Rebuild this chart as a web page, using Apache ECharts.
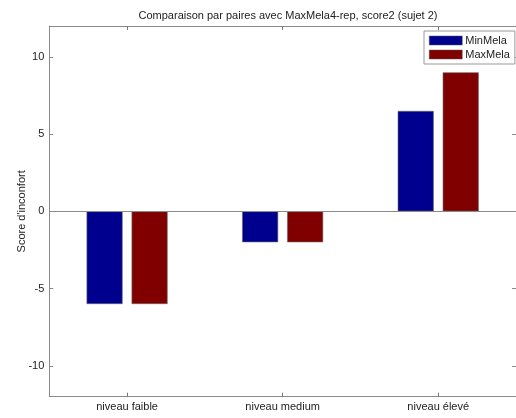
<!DOCTYPE html>
<html>
<head>
<meta charset="utf-8">
<script src="https://cdn.jsdelivr.net/npm/echarts@6/dist/echarts.min.js"></script>
<style>html,body{margin:0;padding:0;background:#fff;}#c{width:516px;height:418px;}</style>
</head>
<body>
<div id="c"></div>
<script>
const categories = ['niveau faible', 'niveau medium', 'niveau élevé'];
const minMela = [-6, -2, 6.5];
const maxMela = [-6, -2, 9];
const yTicks = [-10, -5, 0, 5, 10];
const titleText = 'Comparaison par paires avec MaxMela4-rep, score2 (sujet 2)';
const yName = "Score d'inconfort";

const FONT = 'Liberation Sans, Arial, sans-serif';
const AX = '#8a8a8a';
const chart = echarts.init(document.getElementById('c'), null, {renderer: 'canvas'});
chart.setOption({
  animation: false,
  backgroundColor: '#fff',
  title: {
    text: titleText, left: 283, top: 5, textAlign: 'center',
    textStyle: {fontFamily: FONT, fontSize: 11, fontWeight: 'normal', color: '#222'}
  },
  legend: {
    orient: 'vertical', left: 424, top: 31,
    padding: [4, 5, 4, 5], itemGap: 3, itemWidth: 33, itemHeight: 9,
    borderColor: '#999', borderWidth: 1, backgroundColor: '#fff',
    textStyle: {fontFamily: FONT, fontSize: 11, color: '#222', lineHeight: 11, padding: [0,0,0,-2]},
    itemStyle: {borderColor: '#555', borderWidth: 0.5},
    data: [{name: 'MinMela', icon: 'rect'}, {name: 'MaxMela', icon: 'rect'}]
  },
  grid: {left: 49.3, top: 26, width: 468, bottom: 21.3, containLabel: false},
  xAxis: [{
    type: 'category', data: categories, position: 'bottom',
    axisLine: {onZero: false, lineStyle: {color: AX}},
    axisTick: {show: true, interval: 0, inside: true, alignWithLabel: true, length: 4, lineStyle: {color: '#777'}},
    axisLabel: {fontFamily: FONT, fontSize: 11, color: '#222', margin: 5}
  }, {
    type: 'category', data: categories, position: 'top',
    axisLine: {onZero: false, lineStyle: {color: AX}},
    axisTick: {show: true, interval: 0, inside: true, alignWithLabel: true, length: 4, lineStyle: {color: '#777'}},
    axisLabel: {show: false}
  }],
  yAxis: [{
    type: 'value', min: -12, max: 12, interval: 5,
    axisLine: {show: true, lineStyle: {color: AX}},
    axisTick: {show: true, inside: true, length: 4, lineStyle: {color: AX}, customValues: yTicks},
    axisLabel: {fontFamily: FONT, fontSize: 11, color: '#222', margin: 5, customValues: yTicks},
    splitLine: {show: false},
    name: yName, nameLocation: 'middle', nameGap: 22, nameMoveOverlap: false,
    nameTextStyle: {fontFamily: FONT, fontSize: 11, color: '#222'}
  }, {
    type: 'value', min: -12, max: 12, position: 'right',
    axisLine: {show: true, lineStyle: {color: AX}},
    axisTick: {show: true, inside: true, length: 4, lineStyle: {color: AX}, customValues: yTicks},
    axisLabel: {show: false}, splitLine: {show: false}
  }],
  series: [{
    name: 'MinMela', type: 'bar', data: minMela, barWidth: 36, barGap: '25%',
    itemStyle: {color: '#00008f', borderColor: '#666', borderWidth: 0.6},
    markLine: {
      silent: true, symbol: 'none', label: {show: false},
      lineStyle: {color: AX, type: 'solid', width: 1},
      data: [{yAxis: 0}]
    }
  }, {
    name: 'MaxMela', type: 'bar', data: maxMela, barWidth: 36, barGap: '25%',
    itemStyle: {color: '#800000', borderColor: '#666', borderWidth: 0.6}
  }]
});
</script>
</body>
</html>
